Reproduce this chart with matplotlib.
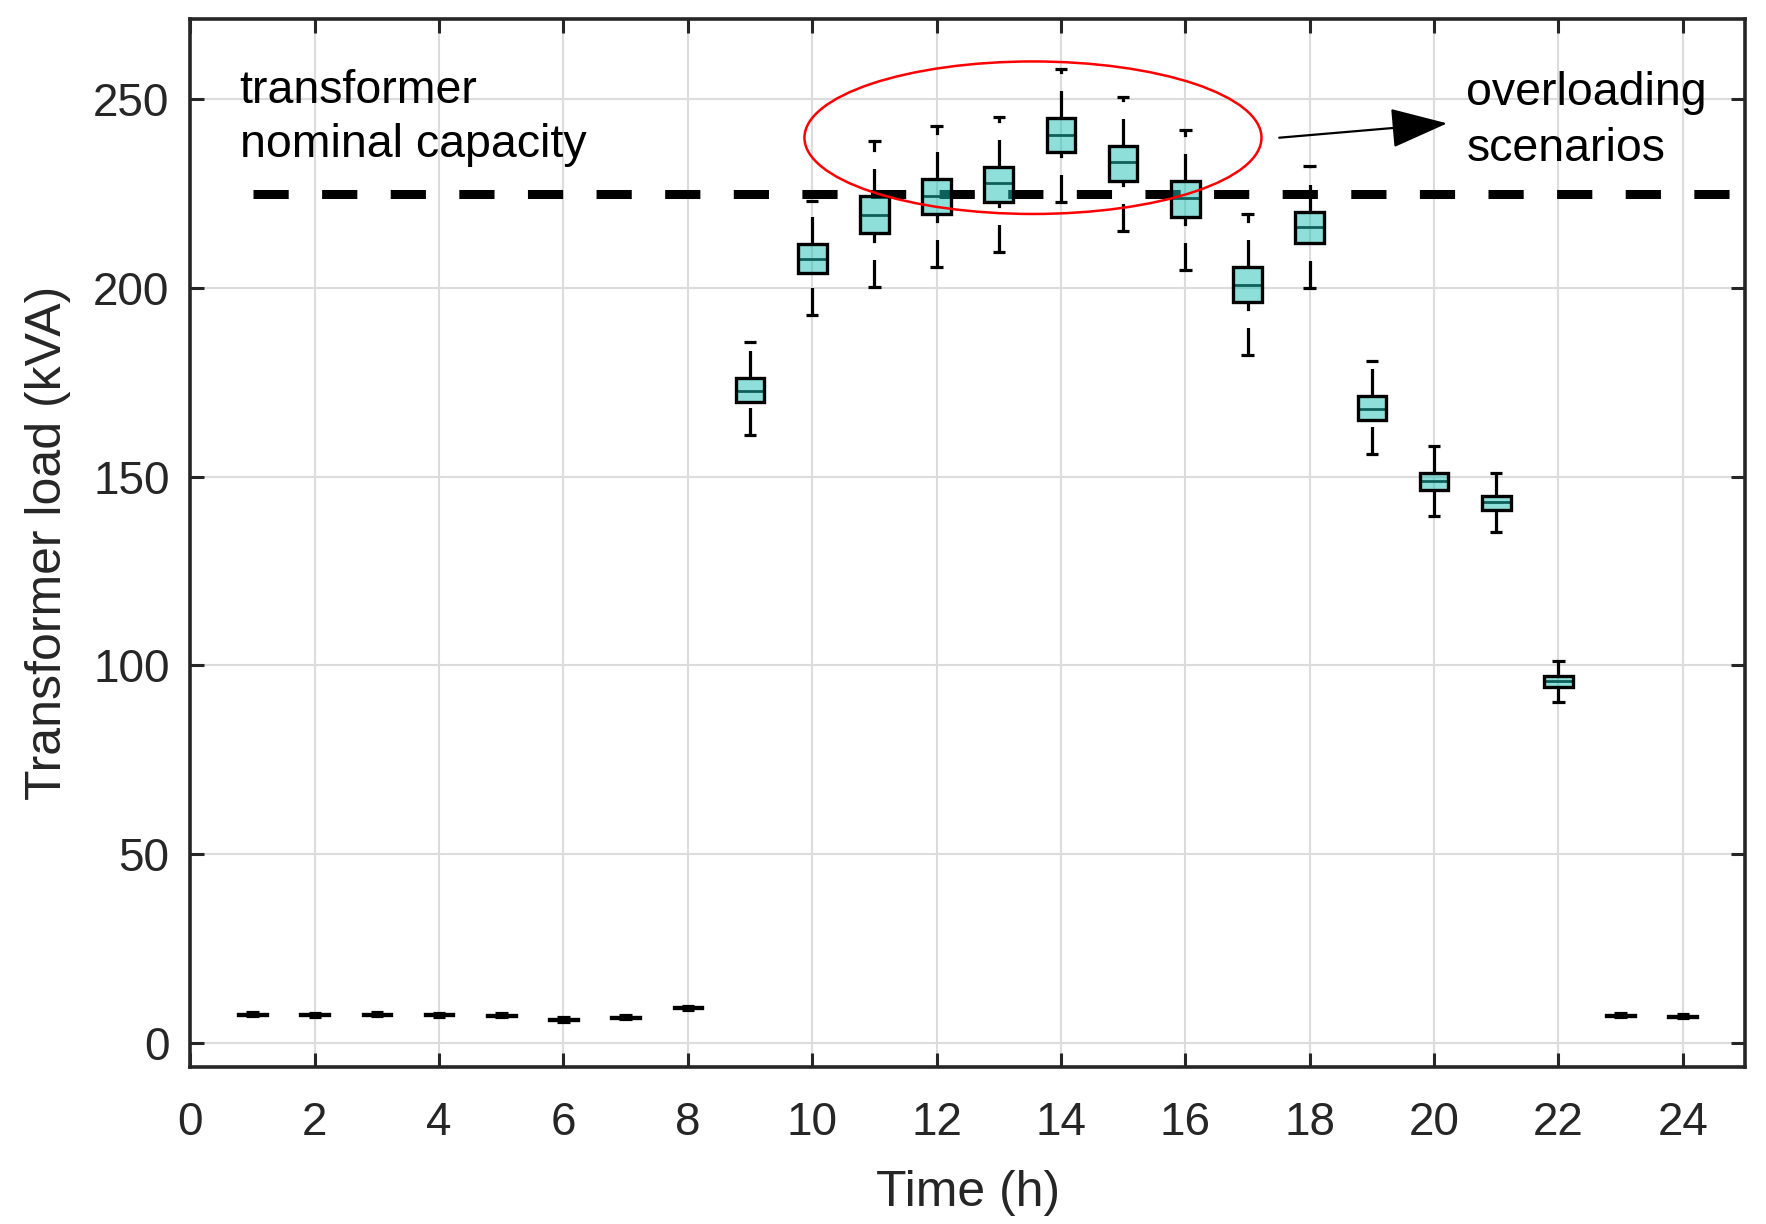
import numpy as np
import matplotlib
matplotlib.use('Agg')
import matplotlib.pyplot as plt
from matplotlib.patches import Ellipse, FancyArrowPatch

plt.rcParams['font.family'] = ['Liberation Sans', 'DejaVu Sans']

# hourly transformer load statistics (kVA)
hours = list(range(1, 25))
whislo = [7.05, 6.95, 7.05, 6.95, 6.75, 5.65, 6.25, 8.75,
          161.0, 192.8, 200.2, 205.5, 209.5, 222.7, 215.0, 204.7,
          182.2, 199.9, 156.1, 139.7, 135.4, 90.4, 6.75, 6.55]
q1 = [7.45, 7.35, 7.45, 7.35, 7.15, 6.05, 6.65, 9.15,
      169.7, 203.9, 214.5, 219.6, 222.9, 236.0, 228.4, 218.9,
      196.2, 211.8, 164.9, 146.6, 141.2, 94.4, 7.15, 6.95]
med = [7.6, 7.5, 7.6, 7.5, 7.3, 6.2, 6.8, 9.3,
       172.7, 207.6, 219.3, 224.3, 227.7, 240.6, 233.3, 223.7,
       200.7, 216.1, 168.0, 148.8, 143.2, 95.8, 7.3, 7.1]
q3 = [7.75, 7.65, 7.75, 7.65, 7.45, 6.35, 6.95, 9.45,
      176.1, 211.7, 224.4, 228.9, 232.0, 244.9, 237.5, 228.4,
      205.5, 220.2, 171.3, 151.1, 144.9, 97.3, 7.45, 7.25]
whishi = [8.15, 8.05, 8.15, 8.05, 7.85, 6.75, 7.35, 9.85,
          185.6, 223.0, 239.0, 242.8, 245.3, 257.9, 250.5, 241.8,
          219.5, 232.3, 180.6, 158.0, 151.0, 101.2, 7.85, 7.65]

nominal_capacity = 225
capacity_span = [1, 25]

stats = []
for i in range(len(hours)):
    stats.append(dict(med=med[i], q1=q1[i], q3=q3[i],
                      whislo=whislo[i], whishi=whishi[i], fliers=[]))

fig = plt.figure(figsize=(17.66, 12.24), dpi=100)
ax = fig.add_axes([0.1078, 0.1285, 0.9881 - 0.1078, 0.98464 - 0.1285])

axcol = '#262626'
ax.set_axisbelow(True)
ax.grid(True, color='#dcdcdc', linewidth=1.5)

ax.plot(capacity_span, [nominal_capacity] * 2, color='black', linewidth=6.5,
        linestyle=(0, (3.9, 3.7)), zorder=1.5)

bp = ax.bxp(stats, positions=hours, widths=0.46, capwidths=0.2,
            patch_artist=True, showfliers=False,
            boxprops=dict(facecolor=(0.118, 0.745, 0.706, 0.5),
                          edgecolor='black', linewidth=2.4, zorder=2.2),
            medianprops=dict(color='black', linewidth=2.0, zorder=2.0),
            whiskerprops=dict(color='black', linewidth=2.3,
                              linestyle=(0, (8.6, 5.3)), zorder=2.1),
            capprops=dict(color='black', linewidth=2.3,
                          solid_capstyle='butt', zorder=2.1))

# lower whiskers drawn from the cap upwards, as in the original
for k, w in enumerate(bp['whiskers']):
    if k % 2 == 0:
        w.set_ydata(w.get_ydata()[::-1])

ax.set_xlim(0, 25)
ax.set_ylim(-6.3, 271.3)
ax.set_xticks(range(0, 25, 2))
ax.set_xticklabels([str(t) for t in range(0, 25, 2)])
ax.set_yticks(range(0, 251, 50))

ax.tick_params(direction='in', top=True, right=True, length=10, width=2.2,
               colors=axcol, labelsize=33)
ax.tick_params(axis='x', pad=25)
ax.tick_params(axis='y', pad=15)
for sp in ax.spines.values():
    sp.set_linewidth(2.6)
    sp.set_color(axcol)

ax.set_xlabel('Time (h)', fontsize=36, color=axcol, labelpad=18)
ax.set_ylabel('Transformer load (kVA)', fontsize=36, color=axcol, labelpad=16)

txt = dict(fontsize=33.5, color='black', va='baseline')
ax.text(0.79, 249, 'transformer', **txt)
ax.text(0.79, 234.7, 'nominal capacity', **txt)
ax.text(20.52, 248.5, 'overloading', **txt)
ax.text(20.52, 233.5, 'scenarios', **txt)

ell = Ellipse((13.55, 239.8), 7.35, 40.4, fill=False, edgecolor='red',
              linewidth=1.8, zorder=5)
ax.add_patch(ell)

arr = FancyArrowPatch((17.51, 239.8), (20.21, 243.6),
                      arrowstyle='-|>,head_length=36,head_width=12.6',
                      mutation_scale=1, color='black', linewidth=1.6,
                      shrinkA=0, shrinkB=0, zorder=5)
ax.add_patch(arr)

plt.savefig('out.png', dpi=100)
